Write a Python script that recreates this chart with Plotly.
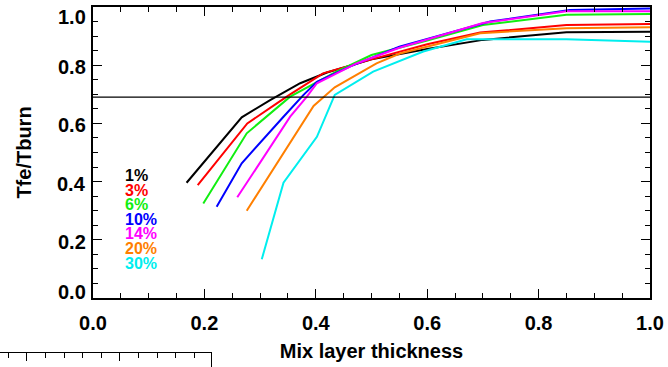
import plotly.graph_objects as go

W, H = 668, 367
# plot box in pixels
L, R, T, B = 93, 650, 7, 298

labels = ["1%", "3%", "6%", "10%", "14%", "20%", "30%"]
colors = ["#000000", "#ff0000", "#11ee11", "#0000ff", "#ff00ff", "#ff7f00", "#00eeee"]

x_1 = [0.168, 0.267, 0.318, 0.372, 0.42, 0.5, 0.6, 0.7, 0.85, 1.0]
y_1 = [0.396, 0.621, 0.68, 0.738, 0.775, 0.82, 0.856, 0.887, 0.913, 0.915]
x_3 = [0.188, 0.277, 0.33, 0.354, 0.413, 0.5, 0.6, 0.695, 0.85, 1.0]
y_3 = [0.388, 0.60, 0.669, 0.70, 0.772, 0.82, 0.872, 0.912, 0.938, 0.942]
x_6 = [0.198, 0.276, 0.354, 0.437, 0.5, 0.6, 0.7, 0.85, 1.0]
y_6 = [0.325, 0.566, 0.692, 0.778, 0.835, 0.885, 0.938, 0.973, 0.976]
x_10 = [0.222, 0.267, 0.342, 0.378, 0.402, 0.461, 0.55, 0.713, 0.856, 1.0]
y_10 = [0.314, 0.463, 0.623, 0.698, 0.743, 0.795, 0.864, 0.95, 0.99, 0.995]
x_14 = [0.259, 0.354, 0.384, 0.402, 0.473, 0.55, 0.7, 0.85, 1.0]
y_14 = [0.346, 0.623, 0.692, 0.738, 0.806, 0.86, 0.945, 0.985, 0.985]
x_20 = [0.276, 0.396, 0.434, 0.509, 0.551, 0.695, 0.85, 1.0]
y_20 = [0.30, 0.66, 0.724, 0.806, 0.84, 0.91, 0.927, 0.93]
x_30 = [0.303, 0.342, 0.402, 0.434, 0.503, 0.593, 0.671, 0.85, 1.0]
y_30 = [0.133, 0.396, 0.554, 0.698, 0.778, 0.847, 0.889, 0.889, 0.881]

xs = [x_1, x_3, x_6, x_10, x_14, x_20, x_30]
ys = [y_1, y_3, y_6, y_10, y_14, y_20, y_30]

threshold = 0.69
label_x = 0.054
label_y = [0.42, 0.37, 0.32, 0.27, 0.22, 0.17, 0.12]

x_ticks = [0.0, 0.2, 0.4, 0.6, 0.8, 1.0]
y_ticks = [0.0, 0.2, 0.4, 0.6, 0.8, 1.0]
y_tick_text = ["0.0", "0.2", "0.4", "0.6", "0.8", "1.0"]
# pixels each y tick label sits below its tick in the original
y_tick_down = [-6, 2, 2, 2, 2, 10]

FONT = "Liberation Sans, Arial, Helvetica, sans-serif"

fig = go.Figure()
for x, y, c, n in zip(xs, ys, colors, labels):
    fig.add_trace(go.Scatter(x=x, y=y, mode="lines", name=n,
                             line=dict(color=c, width=2), showlegend=False,
                             xaxis="x", yaxis="y"))

for n, c, yy in zip(labels, colors, label_y):
    fig.add_annotation(x=label_x, y=yy, text=n, showarrow=False,
                       xanchor="left", yanchor="middle", xref="x", yref="y",
                       font=dict(family=FONT, size=16, color=c, weight="bold"))

for v, t, s in zip(y_ticks, y_tick_text, y_tick_down):
    fig.add_annotation(x=0, y=v, text=t, showarrow=False, xref="x domain", yref="y",
                       xanchor="right", yanchor="middle", xshift=-5, yshift=-s,
                       font=dict(family=FONT, size=20, color="black", weight="bold"))

fig.add_shape(type="line", xref="x domain", yref="y", x0=0, x1=1,
              y0=threshold, y1=threshold, line=dict(color="black", width=1.3))

# partial second panel at bottom-left
fig.add_trace(go.Scatter(x=[None], y=[None], xaxis="x2", yaxis="y2", showlegend=False))

axis_common = dict(showline=True, linecolor="black", linewidth=1.5, mirror="ticks",
                   ticks="inside", ticklen=9, tickwidth=1.2, tickcolor="black",
                   showgrid=False, zeroline=False, automargin=False,
                   tickfont=dict(family=FONT, size=20, color="black", weight="bold"))

fig.update_layout(
    width=W, height=H,
    margin=dict(l=0, r=0, t=0, b=0, autoexpand=False),
    paper_bgcolor="white", plot_bgcolor="white",
    xaxis=dict(domain=[L / W, R / W], range=[0, 1], anchor="y",
               tickvals=x_ticks, ticktext=[f"{v:.1f}" for v in x_ticks],
               minor=dict(dtick=0.05, ticklen=5, tickcolor="black", ticks="inside", showgrid=False),
               title=dict(text="Mix layer thickness", standoff=11,
                          font=dict(family=FONT, size=20, color="black", weight="bold")),
               ticklabelstandoff=6,
               **axis_common),
    yaxis=dict(domain=[1 - B / H, 1 - T / H], range=[0, 1], anchor="x",
               tickvals=y_ticks, showticklabels=False,
               minor=dict(dtick=0.05, ticklen=5, tickcolor="black", ticks="inside", showgrid=False),
               title=dict(text="Tfe/Tburn", standoff=54,
                          font=dict(family=FONT, size=20, color="black", weight="bold")),
               **axis_common),
    xaxis2=dict(domain=[0, 211 / W], range=[-0.29, 1.98], anchor="y2", side="top",
                showline=True, linecolor="black", linewidth=1.2, mirror=False,
                ticks="inside", ticklen=8, tickwidth=1, tickcolor="black",
                tickvals=[0, 1], showticklabels=False, showgrid=False, zeroline=False,
                automargin=False,
                minor=dict(dtick=0.2, ticklen=5, tickcolor="black", ticks="inside", showgrid=False)),
    yaxis2=dict(domain=[0, 1 - 353 / H], range=[0, 1], anchor="x2", side="right",
                showline=True, linecolor="black", linewidth=1.2, automargin=False,
                ticks="", showticklabels=False, showgrid=False, zeroline=False),
)

fig.write_html("out.html")
